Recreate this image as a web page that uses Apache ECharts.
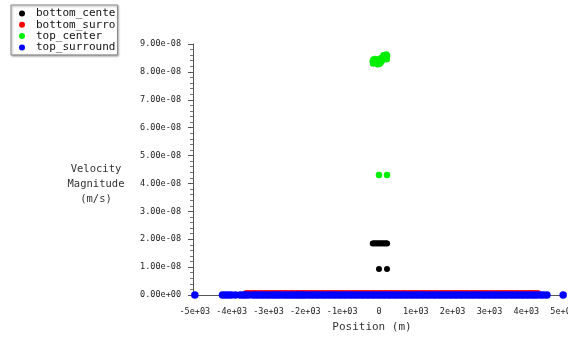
<!DOCTYPE html>
<html>
<head>
<meta charset="utf-8">
<script src="https://cdn.jsdelivr.net/npm/echarts@6/dist/echarts.min.js"></script>
<style>
html,body{margin:0;padding:0;background:#fff;}
#chart{width:568px;height:343px;}
</style>
</head>
<body>
<div id="chart"></div>
<script>
// ---- data ----
const seriesNames = ['bottom_cente', 'bottom_surro', 'top_center', 'top_surround'];
const seriesColors = ['#000000', '#ff0000', '#00ee00', '#0000ff'];

// bottom_center (black)
const bottomCenterX = [-170, -130, -90, -50, -10, 30, 70, 110, 150, 190, 220, 0, 217];
const bottomCenterY = [1.85e-8, 1.86e-8, 1.85e-8, 1.86e-8, 1.85e-8, 1.86e-8, 1.85e-8, 1.86e-8, 1.85e-8, 1.86e-8, 1.85e-8, 0.93e-8, 0.93e-8];

// top_center (green)
const topCenterX = [-170, -150, -110, -70, -30, 0, 40, 80, 110, 140, 170, 200, 220, -120, -40, 30, 100, 160, -160, -100, -50, 20, 60, 120, 180, 210, 0, 217];
const topCenterY = [8.38e-8, 8.44e-8, 8.40e-8, 8.36e-8, 8.30e-8, 8.28e-8, 8.32e-8, 8.40e-8, 8.48e-8, 8.56e-8, 8.60e-8, 8.62e-8, 8.57e-8, 8.33e-8, 8.27e-8, 8.36e-8, 8.45e-8, 8.52e-8, 8.30e-8, 8.46e-8, 8.42e-8, 8.45e-8, 8.50e-8, 8.60e-8, 8.50e-8, 8.45e-8, 4.30e-8, 4.30e-8];

// bottom_surround (red) – tiny values along the axis
const bottomSurroundX = [-3600, -3520, -3430, -3350, -3260, -3180, -3090, -3010, -2920, -2840, -2750, -2670, -2580, -2500, -2410, -2330, -2240, -2160, -2070, -1990, -1900, -1820, -1730, -1650, -1560, -1480, -1390, -1310, -1220, -1140, -1050, -970, -880, -800, -710, -630, -540, -460, -370, -290, -200, -120, -30, 50, 140, 220, 310, 390, 480, 560, 650, 730, 820, 900, 990, 1070, 1160, 1240, 1330, 1410, 1500, 1580, 1670, 1750, 1840, 1920, 2010, 2090, 2180, 2260, 2350, 2430, 2520, 2600, 2690, 2770, 2860, 2940, 3030, 3110, 3200, 3280, 3370, 3450, 3540, 3620, 3710, 3790, 3880, 3960, 4050, 4130, 4220, 4310];
const bottomSurroundY = bottomSurroundX.map(() => 5e-10);

// top_surround (blue) – values along the axis
const topSurroundX = [-5000,
  -4250, -4170, -4090, -4010, -3900,
  -3770, -3690, -3620, -3540,
  -3430, -3350, -3280, -3200, -3130,
  -3050, -2980, -2900, -2830, -2760, -2690, -2610, -2540, -2470, -2400, -2330, -2260, -2190, -2120,
  -2060, -1990, -1910, -1840, -1770, -1690, -1620, -1540, -1470, -1390, -1320, -1240, -1170, -1090, -1020, -940, -870, -790, -720, -640, -570, -490, -420, -340, -270, -190, -120, -40, 30, 110, 180, 260, 330, 410, 480, 560, 630, 710, 780, 860, 930, 1010, 1080, 1160, 1230, 1310, 1380, 1460, 1530, 1610, 1680, 1760, 1830, 1910, 1980, 2060, 2130, 2210, 2280, 2360, 2430, 2510, 2580, 2660, 2730, 2810, 2880, 2960, 3030, 3110, 3180, 3260, 3330, 3410, 3480, 3560, 3630, 3710, 3780, 3860, 3930, 4010, 4080, 4160, 4230, 4300,
  4390, 4470, 4560,
  5000];
const topSurroundY = topSurroundX.map(() => 0);

// axes
const xMin = -5050, xMax = 5050;
const xTickValues = [-5000, -4000, -3000, -2000, -1000, 0, 1000, 2000, 3000, 4000, 5000];
const yMin = 0, yMax = 9e-8, yInterval = 1e-8;
const yAxisName = '\n\nVelocity\nMagnitude\n(m/s)';
const xAxisName = 'Position (m)';

// ---- helpers ----
function pair(xs, ys) { return xs.map((x, i) => [x, ys[i]]); }
function padExp(s) {
  const parts = s.split('e');
  let e = parts[1];
  const sign = e[0];
  let d = e.slice(1);
  if (d.length < 2) d = '0' + d;
  return parts[0] + 'e' + sign + d;
}
function fmtY(v) {
  if (Math.abs(v) < 1e-20) return '0.00e+00';
  return padExp(v.toExponential(2));
}
function fmtX(v) {
  if (v === 0) return '0';
  return padExp(v.toExponential(0));
}

const FONT = 'DejaVu Sans Mono';
const chart = echarts.init(document.getElementById('chart'), null, {renderer: 'canvas'});

const dataSets = [
  pair(bottomCenterX, bottomCenterY),
  pair(bottomSurroundX, bottomSurroundY),
  pair(topCenterX, topCenterY),
  pair(topSurroundX, topSurroundY)
];
const sizes = [6, 7, 6.5, 7.5];
const drawOrder = [1, 3, 0, 2];

const series = drawOrder.map(i => ({
  name: seriesNames[i],
  type: 'scatter',
  data: dataSets[i],
  symbol: 'circle',
  symbolSize: sizes[i],
  clip: false,
  itemStyle: {color: seriesColors[i], opacity: 1},
  emphasis: {disabled: true},
  z: 2 + i
}));

chart.setOption({
  animation: false,
  backgroundColor: '#ffffff',
  color: seriesColors,
  grid: {left: 193, right: 3, top: 44, bottom: 48, containLabel: false, outerBoundsMode: 'none'},
  legend: {
    data: seriesNames,
    orient: 'vertical',
    left: 11,
    top: 5,
    padding: [3, 2, 2, 8],
    itemGap: 0.3,
    itemWidth: 14,
    itemHeight: 6,
    icon: 'circle',
    backgroundColor: '#ffffff',
    borderColor: '#8a8a8a',
    borderWidth: 1,
    shadowColor: 'rgba(0,0,0,0.35)',
    shadowBlur: 2,
    shadowOffsetX: 1,
    shadowOffsetY: 1,
    selectedMode: false,
    textStyle: {fontFamily: FONT, fontSize: 11, color: '#111', lineHeight: 11, padding: [0, 0, 0, 2]}
  },
  xAxis: {
    type: 'value',
    min: xMin,
    max: xMax,
    name: xAxisName,
    nameLocation: 'middle',
    nameGap: 32,
    nameTextStyle: {fontFamily: FONT, fontSize: 11, color: '#333', verticalAlign: 'middle', padding: [0, 14, 0, 0]},
    axisLine: {show: true, onZero: true, lineStyle: {color: '#555', width: 1}},
    axisTick: {show: false},
    splitLine: {show: false},
    axisLabel: {
      customValues: xTickValues,
      formatter: fmtX,
      fontFamily: FONT, fontSize: 8.5, color: '#222', margin: 12
    }
  },
  yAxis: {
    type: 'value',
    min: yMin,
    max: yMax,
    interval: yInterval,
    name: yAxisName,
    nameLocation: 'middle',
    nameRotate: 0,
    nameGap: 97,
    nameTextStyle: {fontFamily: FONT, fontSize: 10.5, color: '#333', align: 'center', verticalAlign: 'middle', lineHeight: 15, padding: [4, 0, 0, 0]},
    axisLine: {show: true, onZero: false, lineStyle: {color: '#555', width: 1}},
    axisTick: {show: true, length: 5, lineStyle: {color: '#555'}},
    minorTick: {show: true, splitNumber: 5, length: 3, lineStyle: {color: '#777'}},
    splitLine: {show: false},
    axisLabel: {formatter: fmtY, fontFamily: FONT, fontSize: 8.5, color: '#222', margin: 12}
  },
  series: series
});
</script>
</body>
</html>
